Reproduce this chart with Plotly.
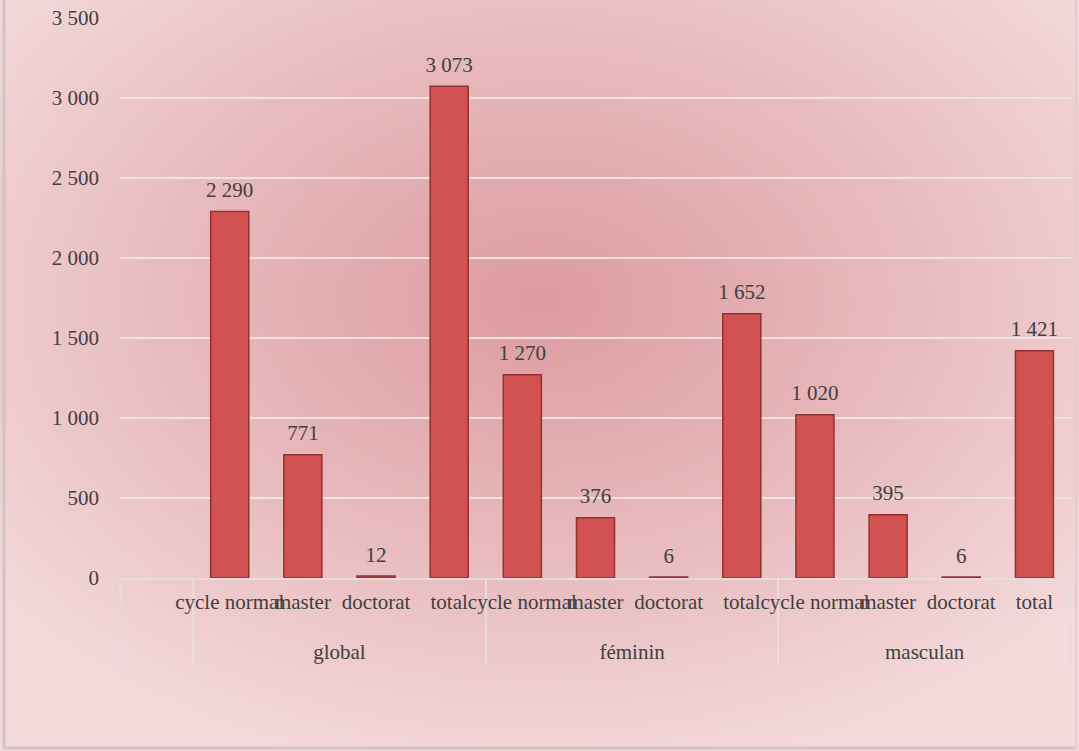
import base64
import plotly.graph_objects as go

# ---- data ----
groups = [" ", "global", "global", "global", "global",
          "féminin", "féminin", "féminin", "féminin",
          "masculan", "masculan", "masculan", "masculan"]
subcats = [" ", "cycle normal", "master", "doctorat", "total",
           "cycle normal", "master", "doctorat", "total",
           "cycle normal", "master", "doctorat", "total"]
values = [None, 2290, 771, 12, 3073, 1270, 376, 6, 1652, 1020, 395, 6, 1421]
y_ticks = [0, 500, 1000, 1500, 2000, 2500, 3000, 3500]

W, H = 1079, 751
ML, MR, MT, MB = 120, 8, 18, 173

FONT = "Liberation Serif, Times New Roman, serif"
TXT = "#404040"

xcats = [["<br>" + g if g.strip() else g for g in groups], subcats]
labels = [None if v is None else f"{v:,}".replace(",", " ") for v in values]

fig = go.Figure()
fig.add_trace(go.Bar(
    x=xcats,
    y=values,
    width=0.52,
    marker=dict(color="#d25252", line=dict(color="#933030", width=1.5)),
    hoverinfo="skip",
))
# value labels (invisible markers give the gap above each bar)
fig.add_trace(go.Scatter(
    x=xcats,
    y=values,
    mode="markers+text",
    marker=dict(size=13, opacity=0),
    text=labels,
    textposition="top center",
    textfont=dict(family=FONT, size=21, color=TXT),
    cliponaxis=False,
    hoverinfo="skip",
))

# radial-gradient background as an SVG image
svg = f'''<svg xmlns="http://www.w3.org/2000/svg" width="{W}" height="{H}">
<defs><radialGradient id="g" cx="50%" cy="40%" r="65%">
<stop offset="0%" stop-color="#dc9ba0"/>
<stop offset="55%" stop-color="#e8bcbf"/>
<stop offset="100%" stop-color="#f4dadb"/>
</radialGradient></defs>
<rect width="{W}" height="{H}" fill="url(#g)"/>
<line x1="4" y1="0" x2="4" y2="{H-3}" stroke="#d2c4c4" stroke-width="3"/>
<line x1="4" y1="{H-3}" x2="{W-3}" y2="{H-3}" stroke="#d2c4c4" stroke-width="3"/>
<line x1="{W-3}" y1="0" x2="{W-3}" y2="{H-3}" stroke="#dccfcf" stroke-width="2"/>
</svg>'''
src = "data:image/svg+xml;base64," + base64.b64encode(svg.encode()).decode()
pw, ph = W - ML - MR, H - MT - MB
fig.add_layout_image(dict(
    source=src, xref="paper", yref="paper",
    x=-ML / pw, y=1 + MT / ph, sizex=W / pw, sizey=H / ph,
    sizing="stretch", xanchor="left", yanchor="top", layer="below",
))

fig.update_layout(
    width=W, height=H,
    margin=dict(l=ML, r=MR, t=MT, b=MB, autoexpand=False),
    paper_bgcolor="#f0d0d2",
    plot_bgcolor="rgba(0,0,0,0)",
    separators=", ",
    showlegend=False,
    font=dict(family=FONT, size=21, color=TXT),
    bargap=0.48,
)
fig.update_yaxes(
    range=[0, 3500], tickvals=y_ticks, tickformat=",",
    showgrid=True, gridcolor="#eee3e3", gridwidth=2,
    zeroline=False, showline=False, ticks="",
    ticklabelstandoff=20, automargin=False,
    tickfont=dict(family=FONT, size=21, color=TXT),
)
fig.update_xaxes(
    type="multicategory", automargin=False,
    range=[-0.5, len(subcats) - 0.5],
    showline=True, linecolor="#e6dcdc", linewidth=2,
    showdividers=True, dividercolor="#e6dcdc", dividerwidth=2,
    tickangle=0, ticks="", ticklabelstandoff=4,
    tickfont=dict(family=FONT, size=21, color=TXT),
)

fig.write_html("out.html", config={"displayModeBar": False},
               post_script="document.body.style.margin='0';")
